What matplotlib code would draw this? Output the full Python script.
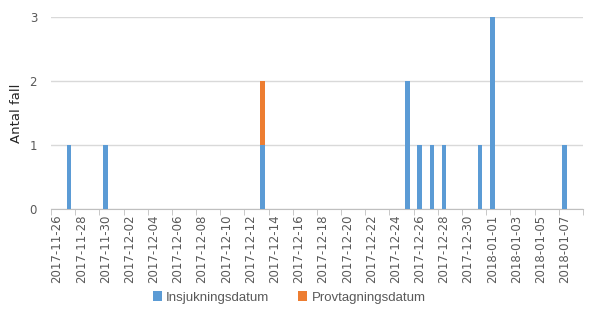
import datetime as dt
import matplotlib
matplotlib.use("Agg")
import matplotlib.pyplot as plt

# cases per day
dates = ["2017-11-27", "2017-11-30", "2017-12-13", "2017-12-25", "2017-12-26",
         "2017-12-27", "2017-12-28", "2017-12-31", "2018-01-01", "2018-01-07"]
insjukning = [1, 1, 1, 2, 1, 1, 1, 1, 3, 1]
provtagning = [0, 0, 1, 0, 0, 0, 0, 0, 0, 0]

start = dt.date(2017, 11, 26)
end = dt.date(2018, 1, 8)

blue = "#5B9BD5"
orange = "#ED7D31"
grey = "#595959"

plt.rcParams['font.family'] = ['DejaVu Sans']

fig = plt.figure(figsize=(5.9, 3.22), dpi=100)
ax = fig.add_axes([0.0864, 0.35, 0.9016, 0.598])

x = [dt.datetime.strptime(d, "%Y-%m-%d") for d in dates]
ax.bar(x, insjukning, width=0.38, color=blue, label="Insjukningsdatum", zorder=3)
ax.bar(x, provtagning, width=0.38, bottom=insjukning, color=orange,
       label="Provtagningsdatum", zorder=3)

half = dt.timedelta(hours=12)
ax.set_xlim(dt.datetime.combine(start, dt.time()) - half,
            dt.datetime.combine(end, dt.time()) + half)
ax.set_ylim(0, 3)

# labels every second day, tick marks between the day slots
label_days = [dt.datetime.combine(start, dt.time()) + dt.timedelta(days=2 * i) for i in range(22)]
edge_days = [dt.datetime.combine(start, dt.time()) - half + dt.timedelta(days=2 * i) for i in range(23)]
ax.set_xticks(label_days)
ax.set_xticklabels([d.strftime("%Y-%m-%d") for d in label_days], rotation=90,
                   fontsize=8.5, color=grey)
ax.tick_params(axis='x', which='major', length=0, pad=4)
ax.set_xticks(edge_days, minor=True)
ax.tick_params(axis='x', which='minor', length=4, color="#BFBFBF")

ax.set_yticks([0, 1, 2, 3])
ax.tick_params(axis='y', length=0, labelsize=8.5, labelcolor=grey, pad=10)
ax.set_ylabel("Antal fall", fontsize=9.5, color="#262626", labelpad=5)
ax.grid(axis='y', color="#D9D9D9", linewidth=1, zorder=0)

for s in ["top", "right", "left"]:
    ax.spines[s].set_visible(False)
ax.spines["bottom"].set_color("#BFBFBF")

fig.legend(loc="lower center", bbox_to_anchor=(0.49, 0.02), ncol=2, frameon=False,
           prop={'family': ['Liberation Sans'], 'size': 9.5},
           handlelength=0.7, handleheight=0.8, columnspacing=2.2,
           handletextpad=0.3, labelcolor=grey)

fig.savefig("out.png", dpi=100)
